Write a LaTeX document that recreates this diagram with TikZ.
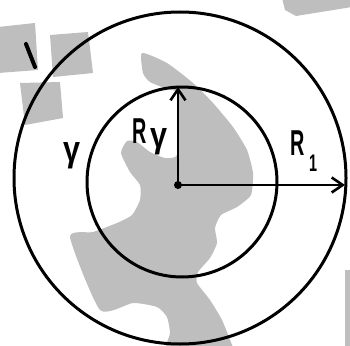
\documentclass[tikz,border=0pt]{standalone}
\usepackage{fontspec}
\setmainfont{Liberation Sans}
\usetikzlibrary{arrows.meta}
\definecolor{wm}{RGB}{190,190,190}
\begin{document}
\begin{tikzpicture}[x=1pt,y=-1pt,
  ring/.style={draw=black,line width=3pt},
  radius arrow/.style={draw=black,line width=2.6pt,-{Straight Barb[length=11pt,width=15pt]}},
  bigtxt/.style={inner sep=0pt,font=\fontsize{36}{36}\selectfont\bfseries},
  subtxt/.style={inner sep=0pt,font=\fontsize{24}{24}\selectfont\bfseries},
  mark stroke/.style={line width=4pt,line cap=round},
  watermark/.style={fill=wm,draw=none}]
\useasboundingbox (0,0) rectangle (350,345);
% background watermark shapes
\fill[watermark] (-2,27) -- (35,23) -- (38,70) -- (-2,73) -- cycle;
\fill[watermark] (50,35) -- (88,32) -- (93,73) -- (53,77) -- cycle;
\fill[watermark] (20,83) -- (60,82) -- (63,118) -- (25,125) -- cycle;
\fill[watermark] (282,-2) -- (352,-2) -- (352,7) -- (296,16) -- (285,10) -- cycle;
\fill[watermark] (345,270) rectangle (352,347);
\fill[watermark] plot[smooth cycle,tension=0.35] coordinates {
 (142,53) (167,63) (193,83) (213,103) (233,127) (247,150) (253,173) (251,195)
 (237,207) (221,215) (215,228) (217,243) (210,258) (198,272) (197,283) (210,300)
 (222,320) (232,345) (233,352) (168,352) (170,333) (167,317) (157,307) (133,303)
 (100,310) (70,237) (93,232) (117,223) (132,215) (140,200) (140,185) (130,172)
 (121,153) (127,141) (137,142) (150,152) (165,158) (177,155) (178,120) (178,93)
 (167,89) (150,82) (143,73)};
% circles
\node[ring,circle,minimum size=332pt,inner sep=0pt] (outer) at (180,178) {};
\node[ring,circle,minimum size=190pt,inner sep=0pt] (inner) at (182,182) {};
% centre and radii
\node[circle,fill=black,inner sep=0pt,minimum size=8pt] (O) at (178,185) {};
\coordinate (T) at (178,87);
\coordinate (E) at (345,185);
\draw[radius arrow] (O.center) -- (T);
\draw[radius arrow] (O.center) -- (E);
% labels
\node[bigtxt] (Ry) at (140,131) {\scalebox{0.55}[1]{R}};
\node[bigtxt] (Rys) at (159,142) {\scalebox{0.85}[1]{γ}};
\node[bigtxt] (g) at (72,156) {\scalebox{0.85}[1]{γ}};
\node[bigtxt] (R1) at (298,143) {\scalebox{0.55}[1]{R}};
\node[subtxt] (R1s) at (313,163) {\scalebox{0.6}[1]{1}};
\draw[mark stroke] (26,44) -- (35,67);
\end{tikzpicture}
\end{document}
